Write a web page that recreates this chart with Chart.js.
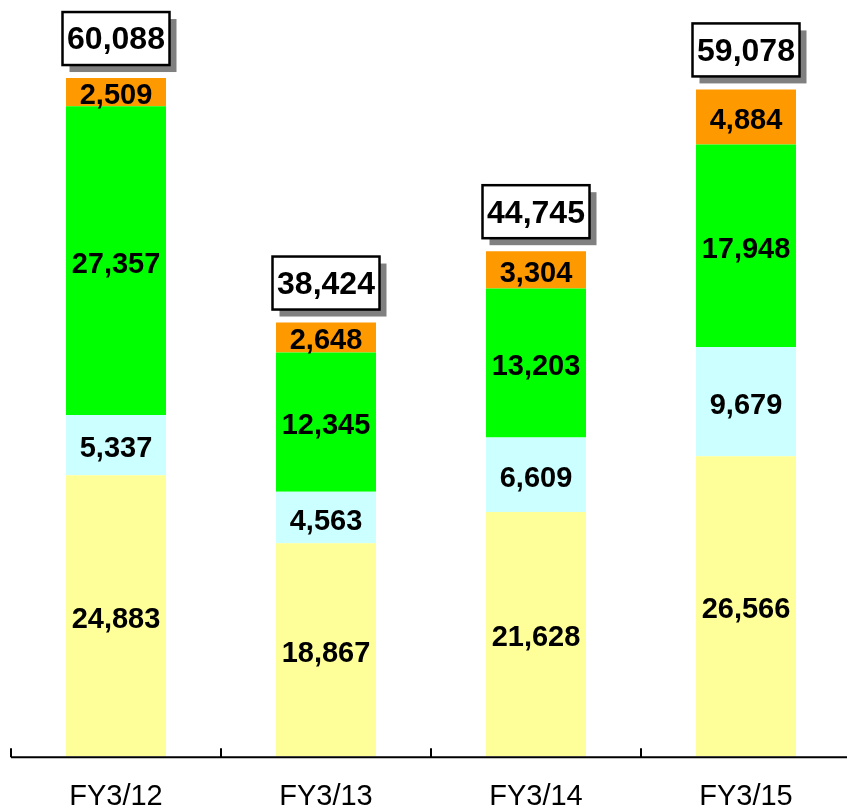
<!DOCTYPE html>
<html>
<head>
<meta charset="utf-8">
<script src="https://cdn.jsdelivr.net/npm/chart.js@4/dist/chart.umd.min.js"></script>
<style>
    html, body { margin: 0; padding: 0; background: #fff; overflow: hidden; }
    #wrap { position: absolute; left: 0; top: 0; width: 862px; height: 837px; }
</style>
</head>
<body>
<div id="wrap"><canvas id="chart"></canvas></div>
<script>
var categories = ['FY3/12', 'FY3/13', 'FY3/14', 'FY3/15'];
var seriesYellow = [24883, 18867, 21628, 26566];
var seriesCyan = [5337, 4563, 6609, 9679];
var seriesGreen = [27357, 12345, 13203, 17948];
var seriesOrange = [2509, 2648, 3304, 4884];
var totals = [60088, 38424, 44745, 59078];

function fmt(v) {
    return v.toLocaleString('en-US');
}

// draws the value inside each segment and the boxed total above each bar
var labelPlugin = {
    id: 'labelPlugin',
    afterDatasetsDraw: function(chart) {
        var ctx = chart.ctx;
        ctx.save();
        ctx.fillStyle = '#000';
        ctx.textAlign = 'center';
        ctx.textBaseline = 'middle';
        ctx.font = 'bold 29px "Liberation Sans", Arial, sans-serif';
        chart.data.datasets.forEach(function(ds, di) {
            var meta = chart.getDatasetMeta(di);
            meta.data.forEach(function(bar, i) {
                var y = (bar.y + bar.base) / 2 + 4;
                ctx.fillText(fmt(ds.data[i]), bar.x, y);
            });
        });

        var top = chart.getDatasetMeta(chart.data.datasets.length - 1);
        ctx.font = 'bold 32px "Liberation Sans", Arial, sans-serif';
        top.data.forEach(function(bar, i) {
            var w = 107, h = 53;
            var x0 = bar.x - w / 2;
            var y0 = bar.y - 13 - h;
            // shadow
            ctx.fillStyle = '#808080';
            ctx.fillRect(x0 + 7, y0 + 7, w, h);
            ctx.fillStyle = '#fff';
            ctx.fillRect(x0, y0, w, h);
            ctx.lineWidth = 2.5;
            ctx.strokeStyle = '#000';
            ctx.strokeRect(x0, y0, w, h);
            ctx.fillStyle = '#000';
            ctx.fillText(fmt(totals[i]), bar.x, y0 + h / 2 + 2);
        });
        ctx.restore();
    },
    afterDraw: function(chart) {
        // axis line and small upward ticks between categories
        var ctx = chart.ctx;
        var area = chart.chartArea;
        var xs = chart.scales.x;
        ctx.save();
        ctx.strokeStyle = '#000';
        ctx.lineWidth = 2;
        ctx.beginPath();
        ctx.moveTo(area.left, area.bottom + 1);
        ctx.lineTo(area.right, area.bottom + 1);
        ctx.stroke();
        ctx.beginPath();
        for (var i = 0; i < categories.length; i++) {
            var px = xs.getPixelForValue(i) - (area.right - area.left) / categories.length / 2;
            ctx.moveTo(px, area.bottom + 1);
            ctx.lineTo(px, area.bottom - 8);
        }
        ctx.stroke();
        ctx.restore();
    }
};

new Chart(document.getElementById('chart'), {
    type: 'bar',
    data: {
        labels: categories,
        datasets: [
            { label: 'a', data: seriesYellow, backgroundColor: '#FFFF99' },
            { label: 'b', data: seriesCyan, backgroundColor: '#CCFFFF' },
            { label: 'c', data: seriesGreen, backgroundColor: '#00FF00' },
            { label: 'd', data: seriesOrange, backgroundColor: '#FF9900' }
        ]
    },
    options: {
        responsive: true,
        maintainAspectRatio: false,
        animation: false,
        layout: { padding: { left: 11, right: 11, top: 0, bottom: 0 } },
        datasets: {
            bar: { barPercentage: 100 / 210, categoryPercentage: 1, borderWidth: 0 }
        },
        plugins: {
            legend: { display: false },
            tooltip: { enabled: false }
        },
        scales: {
            x: {
                stacked: true,
                grid: { display: false, drawTicks: false },
                border: { display: false },
                ticks: {
                    color: '#000',
                    padding: 23,
                    font: { size: 29, family: '"Liberation Sans", Arial, sans-serif' }
                }
            },
            y: {
                stacked: true,
                display: false,
                min: 0,
                max: 67000
            }
        }
    },
    plugins: [labelPlugin]
});
</script>
</body>
</html>
